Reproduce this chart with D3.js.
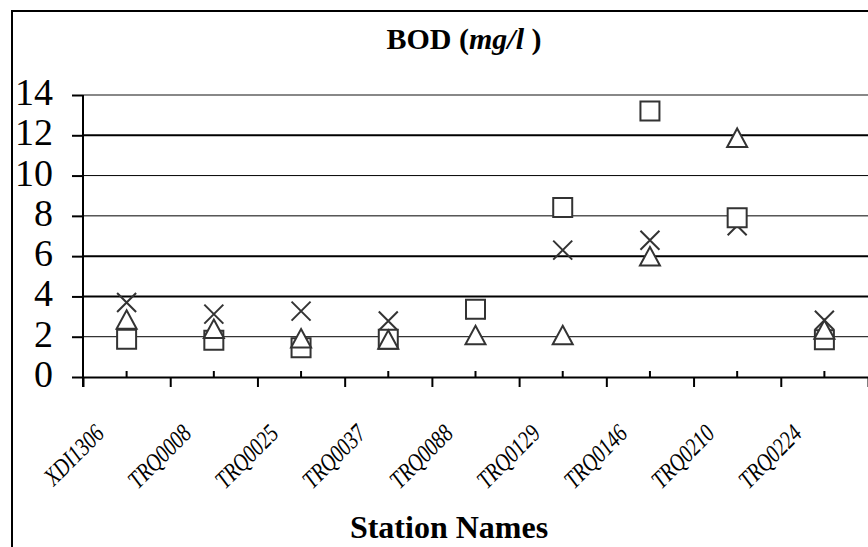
<!DOCTYPE html>
<html>
<head>
<meta charset="utf-8">
<script src="https://cdn.jsdelivr.net/npm/d3@7"></script>
</head>
<body style="margin:0;padding:0;background:#fff">
<svg id="chart" width="868" height="547" style="display:block"></svg>
<script>
// ---- data ----
const categories = ["XDI1306", "TRQ0008", "TRQ0025", "TRQ0037", "TRQ0088", "TRQ0129", "TRQ0146", "TRQ0210", "TRQ0224"];
const seriesX        = [3.70, 3.12, 3.27, 2.78, 3.35, 6.30, 6.79, 7.51, 2.82];
const seriesSquare   = [1.87, 1.83, 1.45, 1.87, 3.36, 8.41, 13.21, 7.91, 1.85];
const seriesTriangle = [2.84, 2.38, 1.91, 1.85, 2.07, 2.07, 5.98, 11.87, 2.35];
const yTicks = [0, 2, 4, 6, 8, 10, 12, 14];
const titleMain = "BOD (";
const titleUnit = "mg/l";
const titleEnd = " )";
const xTitle = "Station Names";

// ---- layout ----
const FONT = "Liberation Serif";
const svg = d3.select("#chart");
const pLeft = 83, pRight = 868, pTop = 95, pBottom = 377;

const x = d3.scaleBand().domain(categories).range([pLeft, pRight]).padding(0);
const xi = d3.scaleLinear().domain([0, categories.length]).range([pLeft, pRight]);
const y = d3.scaleLinear().domain([0, 14]).range([pBottom, pTop]);
const cx = c => x(c) + x.bandwidth() / 2;

svg.append("rect").attr("width", 868).attr("height", 547).attr("fill", "#fff");

// chart border
svg.append("path")
  .attr("d", `M12,548 L12,11 L870,11`)
  .attr("fill", "none").attr("stroke", "#000").attr("stroke-width", 2);

// gridlines
const thick = new Set([12, 6, 4]);
svg.append("g").selectAll("line").data(yTicks.filter(d => d > 0)).join("line")
  .attr("x1", pLeft).attr("x2", 870)
  .attr("y1", d => y(d)).attr("y2", d => y(d))
  .attr("stroke", d => d === 14 ? "#888" : "#000")
  .attr("stroke-width", d => (d === 14 || thick.has(d)) ? 2 : 1);

// y axis
const yAxis = svg.append("g").attr("transform", `translate(${pLeft},0)`)
  .call(d3.axisLeft(y).tickValues(yTicks).tickSize(11).tickPadding(19).tickSizeOuter(0));
yAxis.attr("font-family", FONT).attr("font-size", 38);
yAxis.select(".domain").remove();
yAxis.selectAll(".tick line").attr("stroke", "#000").attr("stroke-width", 2);
yAxis.selectAll(".tick text")
  .attr("font-family", FONT).attr("font-size", 38)
  .attr("dy", "0.25em").attr("fill", "#000");
svg.append("line").attr("x1", pLeft).attr("x2", pLeft).attr("y1", pTop).attr("y2", pBottom + 10)
  .attr("stroke", "#000").attr("stroke-width", 2);

// x axis: boundary ticks below
const xAxis = svg.append("g").attr("transform", `translate(0,${pBottom})`)
  .call(d3.axisBottom(xi).tickValues(d3.range(categories.length + 1)).tickSize(10).tickFormat("").tickSizeOuter(0));
xAxis.select(".domain").attr("stroke", "#000").attr("stroke-width", 2);
xAxis.selectAll(".tick line").attr("stroke", "#000").attr("stroke-width", 2);
// center ticks above axis
svg.append("g").selectAll("line").data(categories).join("line")
  .attr("x1", d => cx(d)).attr("x2", d => cx(d))
  .attr("y1", pBottom - 6).attr("y2", pBottom)
  .attr("stroke", "#000").attr("stroke-width", 2);

// x labels (condensed italic, rotated)
svg.append("g").selectAll("text").data(categories).join("text")
  .attr("transform", d => `translate(${cx(d) - 21},${pBottom + 58}) rotate(-45) scale(0.8,1)`)
  .attr("text-anchor", "end")
  .attr("font-family", FONT).attr("font-style", "italic").attr("font-size", 25).attr("fill", "#000")
  .text(d => d);

// markers
const mcol = "#333";
const g = svg.append("g");
// X series
g.append("g").selectAll("path").data(seriesX).join("path")
  .attr("transform", (d, i) => `translate(${cx(categories[i])},${y(d)})`)
  .attr("d", "M-9.5,-9.5L9.5,9.5M-9.5,9.5L9.5,-9.5")
  .attr("stroke", mcol).attr("stroke-width", 2).attr("fill", "none");
// Square series
g.append("g").selectAll("path").data(seriesSquare).join("path")
  .attr("transform", (d, i) => `translate(${cx(categories[i])},${y(d)})`)
  .attr("d", "M-9.5,-9.5H9.5V9.5H-9.5Z")
  .attr("stroke", mcol).attr("stroke-width", 2).attr("fill", "#fff");
// Triangle series
g.append("g").selectAll("path").data(seriesTriangle).join("path")
  .attr("transform", (d, i) => `translate(${cx(categories[i])},${y(d)})`)
  .attr("d", "M0,-9.5L10,9L-10,9Z")
  .attr("stroke", mcol).attr("stroke-width", 2).attr("fill", "#fff").attr("stroke-linejoin", "miter");

// title
const t = svg.append("text").attr("x", 464).attr("y", 49).attr("text-anchor", "middle")
  .attr("font-family", FONT).attr("font-size", 30).attr("font-weight", "bold").attr("fill", "#000");
t.append("tspan").text(titleMain);
t.append("tspan").attr("font-style", "italic").text(titleUnit);
t.append("tspan").text(titleEnd);

// x title
svg.append("text").attr("x", 449).attr("y", 538).attr("text-anchor", "middle")
  .attr("font-family", FONT).attr("font-size", 32).attr("font-weight", "bold").attr("fill", "#000")
  .text(xTitle);
</script>
</body>
</html>
